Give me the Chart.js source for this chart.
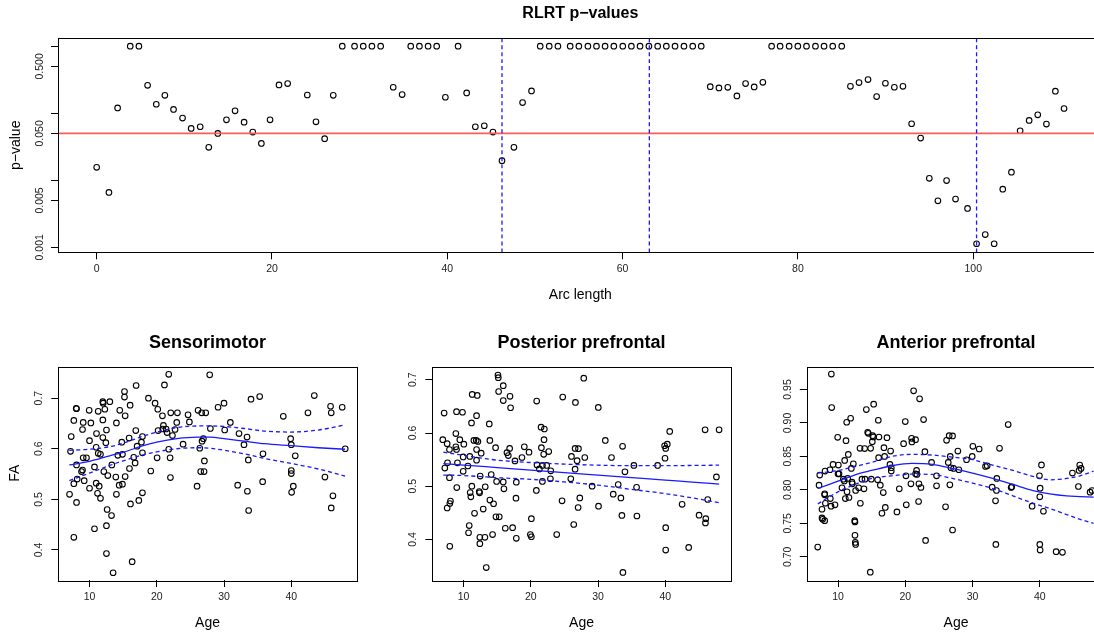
<!DOCTYPE html>
<html>
<head>
<meta charset="utf-8">
<script src="https://cdn.jsdelivr.net/npm/chart.js@4.4.1/dist/chart.umd.min.js"></script>
<style>
  html, body { margin: 0; padding: 0; background: #fff; overflow: hidden; width: 1094px; height: 632px; }
  canvas { position: absolute; }
</style>
</head>
<body>
<canvas id="rlrt" width="1110" height="310" style="left:0;top:0"></canvas>
<canvas id="sensor" width="370" height="322" style="left:0;top:310px"></canvas>
<canvas id="post" width="370" height="322" style="left:370px;top:310px"></canvas>
<canvas id="ant" width="380" height="322" style="left:740px;top:310px"></canvas>
<script>
// ---- top panel: RLRT p-values along the tract ----
const arcLength = [0, 1.40, 2.39, 3.83, 4.82, 5.81, 6.80, 7.78, 8.77, 9.80, 10.78, 11.81, 12.79, 13.82, 14.81,
  15.79, 16.82, 17.81, 18.79, 19.78, 20.80, 21.79, 24.03, 25.02, 26.01, 26.99, 28.02, 29.42, 30.41, 31.40,
  32.40, 33.83, 34.85, 35.83, 36.82, 37.81, 38.79, 39.78, 41.23, 42.21, 43.20, 44.22, 45.21, 46.24, 47.60,
  48.59, 49.61, 50.60, 51.63, 52.62, 54.02, 55.01, 56.04, 57.02, 58.00, 59.00, 60.02, 61.00, 61.99, 63.00,
  64.00, 64.99, 65.98, 67.00, 68.00, 68.97, 70.00, 70.99, 72.00, 73.04, 74.03, 75.01, 76.00, 77.00, 77.97,
  79.00, 79.99, 80.98, 82.00, 82.98, 83.97, 85.00, 85.99, 86.97, 88.00, 88.98, 89.98, 91.00, 91.98, 92.97,
  94.00, 94.99, 95.97, 96.96, 97.98, 99.35, 100.38, 101.37, 102.39, 103.37, 104.36, 105.35, 106.38, 107.36,
  108.35, 109.37, 110.36];
const pValues = [0.0156, 0.00658, 0.120, 1, 1, 0.261, 0.136, 0.185, 0.114, 0.0845, 0.0593, 0.0628, 0.031, 0.050, 0.0798,
  0.1086, 0.0736, 0.0523, 0.0355, 0.0798, 0.264, 0.277, 0.187, 0.0744, 0.0417, 0.185, 1, 1, 1, 1,
  1, 0.244, 0.190, 1, 1, 1, 1, 0.173, 1, 0.201, 0.0628, 0.065, 0.0523, 0.0196, 0.031,
  0.144, 0.215, 1, 1, 1, 1, 1, 1, 1, 1, 1, 1, 1, 1, 1,
  1, 1, 1, 1, 1, 1, 0.249, 0.238, 0.243, 0.181, 0.277, 0.247, 0.289, 1, 1,
  1, 1, 1, 1, 1, 1, 1, 0.252, 0.286, 0.317, 0.177, 0.280, 0.244, 0.252, 0.0696,
  0.0426, 0.0107, 0.00494, 0.0099, 0.00524, 0.0038, 0.00113, 0.00155, 0.00113, 0.00736, 0.0132, 0.0548, 0.078, 0.0946,
  0.0688, 0.213, 0.1176];
const splitPoints = [46.24, 63.05, 100.38];
const alphaLevel = 0.05;
const topXTicks = [0, 20, 40, 60, 80, 100];
const topYTicks = [0.001, 0.005, 0.01, 0.05, 0.1, 0.5, 1];
const topYLabelAt = [0.001, 0.005, 0.05, 0.5];
const topYLabels = ['0.001', '0.005', '0.050', '0.500'];
const topXRange = [-4.41, 114.77];
const topYRange = [0.000843, 1.31];

// ---- bottom panels: FA vs age ----
const ageRange = [5.36, 49.74];
const ageTicks = [10, 20, 30, 40];

const smAge = [7.03, 7.18, 7.28, 7.67, 7.67, 7.67, 8.02, 8.07, 8.07, 8.07, 8.17, 8.81, 8.96, 9.06, 9.06, 8.96, 9.21, 9.55,
  9.95, 10.0, 10.0, 10.2, 10.74, 10.74, 11.04, 10.99, 10.99, 11.19, 11.29, 11.29, 11.44, 11.63, 11.63, 11.98, 11.98,
  11.98, 12.03, 12.13, 12.28, 12.43, 12.52, 12.52, 12.52, 12.62, 12.72, 13.02, 13.27, 13.32, 13.51, 13.91, 14.0, 14.0,
  14.21, 14.41, 14.5, 14.8, 14.9, 14.9, 15.2, 15.2, 15.3, 15.3, 15.89, 15.94, 16.04, 16.09, 16.34, 16.58, 16.78, 16.88,
  16.93, 17.08, 17.33, 17.72, 17.87, 17.87, 17.87, 18.76, 19.11, 19.75, 20.05, 20.15, 20.2, 20.84, 20.89, 20.99, 21.14,
  21.39, 21.53, 21.78, 21.78, 21.98, 22.03, 22.08, 22.33, 22.72, 22.97, 23.07, 23.91, 24.65, 24.85, 25.99, 26.14, 26.39,
  26.53, 26.68, 26.73, 26.93, 27.03, 27.08, 27.28, 27.87, 27.97, 29.11, 30.0, 30.1, 30.94, 32.03, 32.23, 32.97, 33.42,
  33.47, 33.61, 33.66, 34.01, 35.3, 35.79, 35.74, 38.81, 39.9, 40.0, 40.0, 40.0, 40.05, 40.3, 40.59, 42.48, 43.42, 45.0,
  45.84, 45.94, 45.94, 46.19, 47.57, 48.02];
const smFA = [0.510, 0.595, 0.624, 0.656, 0.425, 0.531, 0.680, 0.679, 0.568, 0.494, 0.540, 0.555, 0.638, 0.652, 0.582, 0.558, 0.537, 0.582,
  0.676, 0.616, 0.522, 0.651, 0.442, 0.564, 0.630, 0.603, 0.532, 0.512, 0.674, 0.591, 0.526, 0.589, 0.502, 0.657, 0.622,
  0.693, 0.690, 0.555, 0.678, 0.612, 0.637, 0.448, 0.393, 0.480, 0.547, 0.693, 0.468, 0.568, 0.355, 0.544, 0.651, 0.510,
  0.587, 0.528, 0.676, 0.613, 0.589, 0.530, 0.713, 0.702, 0.665, 0.545, 0.621, 0.561, 0.686, 0.491, 0.377, 0.583, 0.572, 0.636,
  0.725, 0.605, 0.498, 0.613, 0.624, 0.592, 0.513, 0.700, 0.556, 0.690, 0.582, 0.678, 0.636, 0.665, 0.639, 0.646, 0.726,
  0.639, 0.632, 0.747, 0.599, 0.582, 0.543, 0.671, 0.626, 0.638, 0.652, 0.671, 0.609, 0.667, 0.653, 0.526, 0.676, 0.601,
  0.555, 0.671, 0.615, 0.620, 0.555, 0.576, 0.671, 0.746, 0.640, 0.682, 0.690, 0.637, 0.652, 0.528, 0.630, 0.608, 0.623,
  0.516, 0.578, 0.478, 0.698, 0.703, 0.590, 0.535, 0.664, 0.620, 0.608, 0.557, 0.551, 0.514, 0.526, 0.586, 0.671, 0.705, 0.544,
  0.684, 0.671, 0.483, 0.507, 0.682, 0.600];
const smCurveAge = [7, 10, 13, 15, 18, 20, 23, 26, 28, 30, 33, 36, 40, 44, 48];
const smFit = [0.568, 0.575, 0.586, 0.593, 0.606, 0.613, 0.620, 0.623, 0.623, 0.620, 0.615, 0.610, 0.606, 0.602, 0.599];
const smUpper = [0.597, 0.599, 0.604, 0.611, 0.625, 0.633, 0.642, 0.645, 0.645, 0.644, 0.640, 0.635, 0.633, 0.637, 0.647];
const smLower = [0.537, 0.552, 0.567, 0.576, 0.588, 0.594, 0.600, 0.602, 0.601, 0.597, 0.590, 0.581, 0.571, 0.560, 0.546];

const ppAge = [6.92, 7.12, 7.22, 7.57, 7.62, 7.57, 7.91, 7.91, 7.96, 7.96, 8.06, 8.86, 8.86, 8.96, 8.96, 9.0, 9.1, 9.45,
  9.85, 9.95, 10.05, 9.95, 10.65, 10.75, 10.85, 10.94, 10.99, 11.09, 11.19, 11.24, 11.29, 11.54, 11.64, 11.89, 11.94,
  11.94, 11.94, 12.04, 12.14, 12.34, 12.39, 12.43, 12.43, 12.48, 12.63, 12.93, 13.18, 13.23, 13.38, 13.83, 13.92, 13.92,
  14.12, 14.32, 14.47, 14.77, 14.82, 14.92, 15.12, 15.17, 15.22, 15.32, 15.91, 15.91, 15.91, 16.01, 16.21, 16.46, 16.66,
  16.86, 16.91, 17.0, 17.3, 17.65, 17.8, 17.85, 17.85, 18.69, 19.04, 19.74, 19.94, 20.09, 20.09, 20.83, 20.88, 20.93,
  21.28, 21.53, 21.58, 21.73, 21.73, 21.92, 21.97, 22.02, 22.37, 22.67, 22.97, 22.92, 23.86, 24.65, 24.75, 26.05, 25.95,
  26.39, 26.59, 26.59, 26.64, 26.89, 27.04, 27.09, 27.29, 27.88, 28.03, 29.12, 30.04, 30.07, 31.08, 32.0, 32.26, 33.0,
  33.4, 33.55, 33.65, 33.7, 34.0, 35.33, 35.73, 35.78, 38.86, 39.96, 39.9, 40.06, 40.3, 40.06, 40.06, 40.66, 42.5, 43.48,
  45.02, 45.92, 46.02, 45.97, 46.31, 47.6, 48.0];
const ppFA = [0.5875, 0.6375, 0.534, 0.580, 0.544, 0.459, 0.569, 0.516, 0.387, 0.4675, 0.472, 0.599, 0.574, 0.640, 0.569, 0.4975, 0.544, 0.5875,
  0.639, 0.555, 0.579, 0.528, 0.538, 0.4125, 0.426, 0.556, 0.488, 0.480, 0.619, 0.500, 0.6725, 0.586, 0.449, 0.586, 0.6325,
  0.569, 0.549, 0.6706, 0.584, 0.490, 0.4875, 0.404, 0.392, 0.519, 0.562, 0.457, 0.404, 0.499, 0.347, 0.617, 0.586, 0.474,
  0.522, 0.409, 0.467, 0.5725, 0.4425, 0.509, 0.709, 0.704, 0.678, 0.4425, 0.689, 0.661, 0.508, 0.495, 0.421, 0.563, 0.5575,
  0.571, 0.669, 0.6475, 0.422, 0.5475, 0.4775, 0.5075, 0.402, 0.554, 0.574, 0.564, 0.409, 0.439, 0.405, 0.492, 0.660, 0.540,
  0.5325, 0.611, 0.5725, 0.539, 0.509, 0.560, 0.5875, 0.6075, 0.539, 0.565, 0.529, 0.514, 0.409, 0.4725, 0.6675, 0.556, 0.514,
  0.428, 0.571, 0.532, 0.6575, 0.548, 0.460, 0.5706, 0.478, 0.703, 0.554, 0.500, 0.648, 0.4625, 0.586, 0.554, 0.485, 0.503,
  0.478, 0.445, 0.575, 0.338, 0.527, 0.539, 0.498, 0.444, 0.539, 0.5525, 0.576, 0.571, 0.579, 0.422, 0.380, 0.603, 0.466, 0.385,
  0.4456, 0.606, 0.439, 0.431, 0.475, 0.5175, 0.606];
const ppCurveAge = [7, 10, 15, 20, 25, 30, 35, 40, 44, 48];
const ppFit = [0.5425, 0.5397, 0.535, 0.5303, 0.5256, 0.5209, 0.5162, 0.5115, 0.5077, 0.504];
const ppUpper = [0.564, 0.558, 0.549, 0.5445, 0.5415, 0.5395, 0.5385, 0.5385, 0.539, 0.5395];
const ppLower = [0.521, 0.520, 0.516, 0.513, 0.508, 0.502, 0.494, 0.486, 0.478, 0.469];

const apAge = [6.98, 7.18, 7.28, 7.62, 7.62, 7.72, 8.02, 8.02, 8.02, 8.07, 8.12, 8.81, 8.86, 9.01, 8.96, 9.06, 9.26, 9.55,
  9.95, 10.0, 10.15, 10.05, 10.59, 10.79, 10.94, 10.99, 11.09, 11.19, 11.29, 11.34, 11.44, 11.53, 11.63, 11.88, 11.98,
  12.08, 12.13, 12.28, 12.48, 12.52, 12.52, 12.57, 12.62, 12.62, 13.07, 13.27, 13.32, 13.56, 13.86, 13.96, 14.01, 14.21,
  14.41, 14.5, 14.8, 14.85, 14.95, 15.1, 15.15, 15.3, 15.25, 15.89, 15.99, 16.04, 16.09, 16.29, 16.53, 16.73, 16.83, 16.93,
  17.03, 17.28, 17.72, 17.82, 17.92, 17.92, 18.76, 19.11, 19.75, 20.0, 20.1, 20.15, 20.84, 20.94, 20.99, 21.24, 21.53,
  21.53, 21.68, 21.73, 21.98, 22.03, 22.13, 22.33, 22.72, 22.92, 23.02, 23.91, 24.65, 24.65, 25.99, 26.14, 26.39, 26.53,
  26.63, 26.68, 26.78, 27.03, 27.03, 27.18, 27.82, 27.97, 29.11, 29.95, 30.05, 30.99, 31.93, 32.18, 32.92, 33.42, 33.56,
  33.61, 33.47, 34.01, 35.3, 35.74, 35.84, 38.86, 39.95, 40.05, 40.0, 40.0, 40.05, 40.25, 40.54, 42.43, 43.37, 44.85,
  45.74, 45.84, 45.94, 46.14, 47.48, 47.77];
const apFA = [0.7145, 0.807, 0.822, 0.771, 0.758, 0.756, 0.794, 0.7925, 0.754, 0.828, 0.780, 0.830, 0.787, 0.973, 0.7756, 0.923, 0.838, 0.7776,
  0.8785, 0.824, 0.824, 0.837, 0.803, 0.816, 0.8134, 0.844, 0.787, 0.8735, 0.901, 0.797, 0.817, 0.853, 0.7886, 0.907, 0.832,
  0.8114, 0.809, 0.839, 0.754, 0.752, 0.732, 0.7215, 0.7185, 0.799, 0.803, 0.862, 0.780, 0.816, 0.8015, 0.8616, 0.816, 0.920,
  0.886, 0.8845, 0.677, 0.862, 0.816, 0.872, 0.881, 0.928, 0.879, 0.815, 0.904, 0.848, 0.879, 0.807, 0.765, 0.796, 0.863, 0.850,
  0.7737, 0.878, 0.838, 0.858, 0.828, 0.833, 0.767, 0.8015, 0.869, 0.902, 0.821, 0.7776, 0.809, 0.877, 0.8716, 0.948, 0.875,
  0.824, 0.829, 0.823, 0.7826, 0.809, 0.936, 0.8035, 0.905, 0.857, 0.7245, 0.841, 0.821, 0.806, 0.7747, 0.874, 0.841, 0.881,
  0.8075, 0.850, 0.833, 0.8805, 0.740, 0.832, 0.858, 0.830, 0.845, 0.850, 0.865, 0.861, 0.835, 0.836, 0.804, 0.7836, 0.799,
  0.817, 0.7185, 0.862, 0.8975, 0.8035, 0.8045, 0.7756, 0.821, 0.8025, 0.7896, 0.7185, 0.710, 0.8373, 0.768, 0.7076, 0.7066, 0.825,
  0.805, 0.829, 0.837, 0.832, 0.7965, 0.799];
const apCurveAge = [7, 10, 13, 15, 18, 21, 24, 27, 30, 33, 36, 39, 41.5, 44, 46, 48];
const apFit = [0.802, 0.813, 0.824, 0.829, 0.836, 0.8395, 0.838, 0.832, 0.825, 0.817, 0.808, 0.799, 0.794, 0.791, 0.790, 0.789];
const apUpper = [0.825, 0.829, 0.836, 0.841, 0.850, 0.853, 0.852, 0.849, 0.845, 0.837, 0.829, 0.820, 0.815, 0.817, 0.821, 0.828];
const apLower = [0.779, 0.797, 0.810, 0.817, 0.821, 0.8235, 0.823, 0.817, 0.810, 0.802, 0.791, 0.780, 0.772, 0.763, 0.756, 0.750];

const FONT = "'Liberation Sans', Arial, Helvetica, sans-serif";
const BLUE = '#1a1aff';
const pts = (xs, ys) => xs.map((x, i) => ({ x: x, y: ys[i] }));

// R-like frame: box, rotated y labels, titles
const rFrame = {
    id: 'rFrame',
    afterDraw(chart, args, o) {
        const ctx = chart.ctx;
        const a = chart.chartArea;
        const ys = chart.scales.y;
        ctx.save();
        ctx.strokeStyle = '#000';
        ctx.lineWidth = 1;
        ctx.strokeRect(Math.round(a.left) + 0.5, Math.round(a.top) + 0.5,
            Math.round(a.right - a.left), Math.round(a.bottom - a.top));

        ctx.fillStyle = '#222';
        ctx.textAlign = 'center';
        ctx.textBaseline = 'middle';
        ctx.font = '10.5px ' + FONT;
        o.yLabelAt.forEach((v, i) => {
            ctx.save();
            ctx.translate(a.left - o.yLabelGap, ys.getPixelForValue(v));
            ctx.rotate(-Math.PI / 2);
            ctx.fillText(o.yLabels[i], 0, 0);
            ctx.restore();
        });

        ctx.fillStyle = '#000';
        const cx = (a.left + a.right) / 2;
        ctx.font = 'bold ' + o.titleSize + 'px ' + FONT;
        ctx.fillText(o.title, cx, o.titleY);
        ctx.font = '14px ' + FONT;
        ctx.fillText(o.xlab, cx, o.xlabY);
        if (o.ylab) {
            ctx.save();
            ctx.translate(o.ylabX, (a.top + a.bottom) / 2);
            ctx.rotate(-Math.PI / 2);
            ctx.fillText(o.ylab, 0, 0);
            ctx.restore();
        }
        ctx.restore();
    }
};

function pointSet(data) {
    return {
        data: data, showLine: false, pointRadius: 2.8, pointBorderWidth: 1.1,
        pointBorderColor: '#000', pointBackgroundColor: 'rgba(0,0,0,0)', borderColor: '#000'
    };
}
function lineSet(data, color, dash, width) {
    return {
        data: data, showLine: true, pointRadius: 0, borderColor: color, borderWidth: width || 1.3,
        borderDash: dash || [], cubicInterpolationMode: 'monotone', fill: false
    };
}

function rPanel(id, o) {
    const tickFont = { family: FONT, size: 10.5 };
    const tickGrid = { drawOnChartArea: false, drawTicks: true, tickLength: 7, color: '#000', lineWidth: 1 };
    return new Chart(document.getElementById(id), {
        type: 'scatter',
        data: { datasets: o.datasets },
        options: {
            responsive: false,
            animation: false,
            events: [],
            layout: { padding: { top: o.padTop, right: o.padRight, left: 0, bottom: 0 } },
            plugins: { legend: { display: false }, tooltip: { enabled: false }, rFrame: o.frame },
            scales: {
                x: {
                    type: 'linear', min: o.xRange[0], max: o.xRange[1],
                    afterBuildTicks: ax => { ax.ticks = o.xTicks.map(v => ({ value: v })); },
                    afterFit: ax => { ax.height = o.xAxisHeight; },
                    grid: tickGrid,
                    border: { display: false },
                    ticks: { color: '#222', font: tickFont, padding: 4, maxRotation: 0, autoSkip: false, callback: v => String(v) }
                },
                y: {
                    type: o.yType, min: o.yRange[0], max: o.yRange[1],
                    afterBuildTicks: ax => { ax.ticks = o.yTicks.map(v => ({ value: v })); },
                    afterFit: ax => { ax.width = o.yAxisWidth; },
                    grid: tickGrid,
                    border: { display: false },
                    ticks: { display: false }
                }
            }
        },
        plugins: [rFrame]
    });
}

// top panel
const topSets = splitPoints.map(s => lineSet([{ x: s, y: topYRange[0] }, { x: s, y: topYRange[1] }], BLUE, [4, 3]));
topSets.push(lineSet([{ x: topXRange[0], y: alphaLevel }, { x: topXRange[1], y: alphaLevel }], '#ff5a5a', [], 1.8));
topSets.push(pointSet(pts(arcLength, pValues)));
rPanel('rlrt', {
    datasets: topSets,
    xRange: topXRange, xTicks: topXTicks, yType: 'logarithmic', yRange: topYRange, yTicks: topYTicks,
    padTop: 38.3, padRight: 7.3, xAxisHeight: 57.7, yAxisWidth: 58,
    frame: {
        title: 'RLRT p\u2212values', titleSize: 16, titleY: 14, xlab: 'Arc length', xlabY: 295,
        ylab: 'p\u2212value', ylabX: 16, yLabelGap: 18, yLabelAt: topYLabelAt, yLabels: topYLabels
    }
});

// bottom panels
function agePanel(id, cfg) {
    rPanel(id, {
        datasets: [
            lineSet(pts(cfg.curveAge, cfg.upper), BLUE, [4, 3]),
            lineSet(pts(cfg.curveAge, cfg.lower), BLUE, [4, 3]),
            lineSet(pts(cfg.curveAge, cfg.fit), BLUE),
            pointSet(pts(cfg.age, cfg.fa))
        ],
        xRange: ageRange, xTicks: ageTicks, yType: 'linear', yRange: cfg.yRange, yTicks: cfg.yTicks,
        padTop: 56.5, padRight: cfg.padRight, xAxisHeight: 52, yAxisWidth: cfg.yAxisWidth,
        frame: {
            title: cfg.title, titleSize: 18, titleY: 32.7, xlab: 'Age', xlabY: 312.7,
            ylab: cfg.ylab, ylabX: 15, yLabelGap: 19, yLabelAt: cfg.yTicks, yLabels: cfg.yLabels
        }
    });
}

agePanel('sensor', {
    title: 'Sensorimotor', ylab: 'FA', age: smAge, fa: smFA,
    curveAge: smCurveAge, fit: smFit, upper: smUpper, lower: smLower,
    yRange: [0.3407, 0.7625], yTicks: [0.4, 0.5, 0.6, 0.7], yLabels: ['0.4', '0.5', '0.6', '0.7'],
    yAxisWidth: 58.3, padRight: 13.2
});
agePanel('post', {
    title: 'Posterior prefrontal', ylab: '', age: ppAge, fa: ppFA,
    curveAge: ppCurveAge, fit: ppFit, upper: ppUpper, lower: ppLower,
    yRange: [0.3237, 0.725], yTicks: [0.4, 0.5, 0.6, 0.7], yLabels: ['0.4', '0.5', '0.6', '0.7'],
    yAxisWidth: 62.3, padRight: 9.2
});
agePanel('ant', {
    title: 'Anterior prefrontal', ylab: '', age: apAge, fa: apFA,
    curveAge: apCurveAge, fit: apFit, upper: apUpper, lower: apLower,
    yRange: [0.6653, 0.9843], yTicks: [0.70, 0.75, 0.80, 0.85, 0.90, 0.95],
    yLabels: ['0.70', '0.75', '0.80', '0.85', '0.90', '0.95'],
    yAxisWidth: 66.8, padRight: 14.7
});
</script>
</body>
</html>
